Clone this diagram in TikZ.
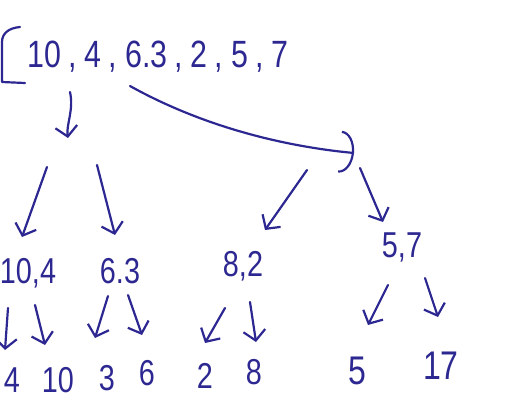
\documentclass[tikz,border=0pt]{standalone}
\usepackage{fontspec}
\newfontfamily\hand[FakeStretch=0.8]{Liberation Sans}
\usetikzlibrary{arrows.meta}
\definecolor{pen}{RGB}{45,40,145}
\newcommand\cm{\kern7pt,\kern8pt}
\tikzset{
  num/.style={inner sep=0pt, text=pen, font=\hand\fontsize{36}{40}\selectfont},
  topnum/.style={inner sep=0pt, text=pen, font=\hand\fontsize{38}{42}\selectfont},
  stroke/.style={draw=pen, line width=2.2pt, line cap=round, line join=round},
  arr/.style={stroke, -{Straight Barb[length=10pt,width=22pt,line width=2.2pt]}},
  bigarr/.style={stroke, -{Arc Barb[length=14pt,width=42pt,line width=2.2pt]}}
}
\begin{document}
\begin{tikzpicture}[x=1pt,y=-1pt]
\useasboundingbox (0,0) rectangle (512,400);
% top list
\node[topnum] (top) at (158,57) {10\cm4\cm6.3\cm2\cm5\cm7};
\draw[stroke] (20,27) .. controls (8,28) and (2,34) .. (2,42) -- (2,82) -- (25,83);
% level 2
\node[num] (a) at (28,273) {10,4};
\node[num] (b) at (120,271) {6.3};
\node[num] (c) at (243,266) {8,2};
\node[num] (d) at (402,247) {5,7};
% leaves
\node[num] (a1) at (12,380) {4};
\node[num] (a2) at (58,380) {10};
\node[num] (b1) at (107,378) {3};
\node[num] (b2) at (147,373) {6};
\node[num] (c1) at (205,376) {2};
\node[num] (c2) at (254,372) {8};
\node[num, font=\hand\fontsize{40}{44}\selectfont] (d1) at (357,371) {5};
\node[num, font=\hand\fontsize{40}{44}\selectfont] (d2) at (441,366) {17};
% arrow coordinates
\coordinate (t0) at (70,92);   \coordinate (t1) at (68,138);
\coordinate (r0) at (130,86);  \coordinate (r1) at (354,153);
\coordinate (p1) at (47,167);  \coordinate (q1) at (22,237);
\coordinate (p2) at (97,165);  \coordinate (q2) at (115,235);
\coordinate (p3) at (307,170); \coordinate (q3) at (265,230);
\coordinate (p4) at (360,168); \coordinate (q4) at (383,222);
\coordinate (u1) at (8,308);   \coordinate (v1) at (5,350);
\coordinate (u2) at (35,305);  \coordinate (v2) at (45,345);
\coordinate (u3) at (108,296); \coordinate (v3) at (95,338);
\coordinate (u4) at (128,295); \coordinate (v4) at (142,335);
\coordinate (u5) at (225,308); \coordinate (v5) at (205,343);
\coordinate (u6) at (250,302); \coordinate (v6) at (256,342);
\coordinate (u7) at (388,285); \coordinate (v7) at (368,325);
\coordinate (u8) at (425,278); \coordinate (v8) at (438,317);
% arrows
\draw[arr] (t0) .. controls (74,110) and (66,125) .. (t1);
\draw[bigarr] (r0) .. controls (200,125) and (280,146) .. (r1);
\draw[arr] (p1) -- (q1);
\draw[arr] (p2) -- (q2);
\draw[arr] (p3) -- (q3);
\draw[arr] (p4) -- (q4);
\draw[arr] (u1) -- (v1);
\draw[arr] (u2) -- (v2);
\draw[arr] (u3) -- (v3);
\draw[arr] (u4) -- (v4);
\draw[arr] (u5) -- (v5);
\draw[arr] (u6) -- (v6);
\draw[arr] (u7) -- (v7);
\draw[arr] (u8) -- (v8);
\end{tikzpicture}
\end{document}
